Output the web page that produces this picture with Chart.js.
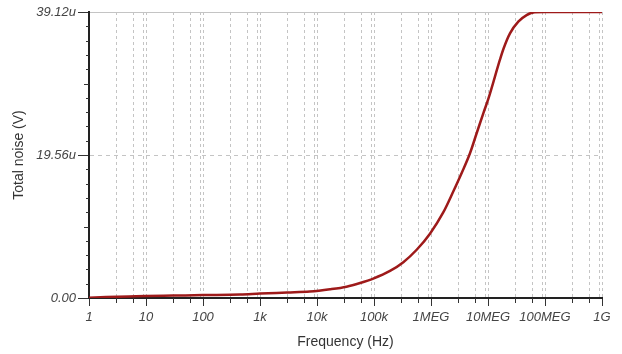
<!DOCTYPE html>
<html>
<head>
<meta charset="utf-8">
<script src="https://cdn.jsdelivr.net/npm/chart.js@4"></script>
<style>
  html, body { margin: 0; padding: 0; background: #fff; }
  #wrap { width: 622px; height: 354px; }
</style>
</head>
<body>
<div id="wrap"><canvas id="noiseChart" width="622" height="354"></canvas></div>
<script>
// frequency (Hz) and total noise (uV)
const freq = [1, 2, 5, 10, 30, 100, 450, 1000, 3000, 7500, 16900, 33000, 57000, 97000,
  191000, 327000, 561000, 960000, 1640000, 2470000, 3500000, 4830000, 6300000, 8300000,
  10200000, 16200000, 18700000, 24300000, 34000000, 47600000, 66000000, 100000000, 1000000000];
const noise = [0.05, 0.12, 0.2, 0.27, 0.33, 0.4, 0.47, 0.6, 0.75, 0.88, 1.19, 1.55, 2.05, 2.65,
  3.7, 4.9, 6.6, 8.8, 11.7, 14.6, 17.2, 19.8, 22.5, 25.3,
  27.3, 32.6, 34.1, 36.2, 37.8, 38.7, 39.1, 39.12, 39.12];

const xDecades = [1, 10, 100, 1e3, 1e4, 1e5, 1e6, 1e7, 1e8, 1e9];
const xTickLabels = ["1", "10", "100", "1k", "10k", "100k", "1MEG", "10MEG", "100MEG", "1G"];
const xGridSteps = [3, 6, 9];

const yMajor = [0, 19.56, 39.12];
const yTickLabels = ["0.00", "19.56u", "39.12u"];
const yMinorStep = 1.956;

const xGrid = [];
xDecades.forEach((d, i) => {
  xGrid.push(d);
  if (i < xDecades.length - 1) xGridSteps.forEach((m) => xGrid.push(d * m));
});
xGrid.sort((a, b) => a - b);

const isDecade = (v) => xDecades.some((d) => Math.abs(v - d) < d * 1e-6);
const majorIdx = (v) => yMajor.findIndex((m) => Math.abs(v - m) < 1e-6);

// short minor tick marks outside the axes
const minorTicks = {
  id: "minorTicks",
  afterDraw(chart) {
    const { ctx, scales } = chart;
    const x = scales.x, y = scales.y;
    ctx.save();
    ctx.strokeStyle = "#333";
    ctx.lineWidth = 1;
    ctx.beginPath();
    xDecades.slice(0, -1).forEach((d) => {
      [3, 6].forEach((m) => {
        const px = Math.round(x.getPixelForValue(d * m)) + 0.5;
        ctx.moveTo(px, y.bottom);
        ctx.lineTo(px, y.bottom + 5);
      });
    });
    for (let k = 1; k < 20; k++) {
      if (k === 10) continue;
      const py = Math.round(y.getPixelForValue(k * yMinorStep)) + 0.5;
      const len = k % 5 === 0 ? 5 : 3;
      ctx.moveTo(x.left - len, py);
      ctx.lineTo(x.left, py);
    }
    ctx.stroke();
    ctx.restore();
  },
};

const ctx = document.getElementById("noiseChart");

new Chart(ctx, {
  type: "line",
  data: {
    datasets: [
      {
        data: freq.map((f, i) => ({ x: f, y: noise[i] })),
        borderColor: "#9e1a1a",
        borderWidth: 2.5,
        pointRadius: 0,
        cubicInterpolationMode: "monotone",
        fill: false,
      },
    ],
  },
  options: {
    responsive: false,
    animation: false,
    layout: { padding: { left: 0, right: 20, top: 12, bottom: 0 } },
    plugins: { legend: { display: false }, tooltip: { enabled: false } },
    scales: {
      x: {
        type: "logarithmic",
        min: 1,
        max: 1e9,
        afterBuildTicks: (scale) => {
          scale.ticks = xGrid.map((v) => ({ value: v }));
        },
        afterFit: (scale) => {
          scale.height = 56;
        },
        ticks: {
          autoSkip: false,
          maxRotation: 0,
          minRotation: 0,
          padding: 4,
          color: "#444",
          font: { family: "Liberation Sans", size: 13, style: "italic" },
          callback: (value) => {
            const i = xDecades.findIndex((d) => Math.abs(value - d) < d * 1e-6);
            return i >= 0 ? xTickLabels[i] : "";
          },
        },
        grid: {
          color: "#c4c4c4",
          lineWidth: 1,
          tickLength: 8,
          tickColor: (c) => (c.tick && isDecade(c.tick.value) ? "#333" : "rgba(0,0,0,0)"),
        },
        border: { display: true, color: "#222", width: 2, dash: [3, 3] },
        title: {
          display: true,
          text: "Frequency (Hz)",
          color: "#333",
          font: { family: "Liberation Sans", size: 14 },
          padding: { top: 0, bottom: 3 },
        },
      },
      y: {
        min: 0,
        max: 39.12,
        afterBuildTicks: (scale) => {
          scale.ticks = yMajor.map((v) => ({ value: v }));
        },
        afterFit: (scale) => {
          scale.width = 89;
        },
        ticks: {
          padding: 2,
          color: "#444",
          font: { family: "Liberation Sans", size: 13, style: "italic" },
          callback: (value) => {
            const i = majorIdx(value);
            return i >= 0 ? yTickLabels[i] : "";
          },
        },
        grid: {
          color: (c) => (c.tick && c.tick.value > 0 ? "#c4c4c4" : "rgba(0,0,0,0)"),
          lineWidth: 1,
          tickLength: 11,
          tickColor: "#333",
        },
        border: {
          display: true,
          color: "#222",
          width: 2,
          dash: (c) => (c.tick && c.tick.value > 30 ? [] : [4, 4]),
        },
        title: {
          display: true,
          text: "Total noise (V)",
          color: "#333",
          font: { family: "Liberation Sans", size: 14 },
          padding: { top: 11, bottom: 0 },
        },
      },
    },
  },
  plugins: [minorTicks],
});
</script>
</body>
</html>
